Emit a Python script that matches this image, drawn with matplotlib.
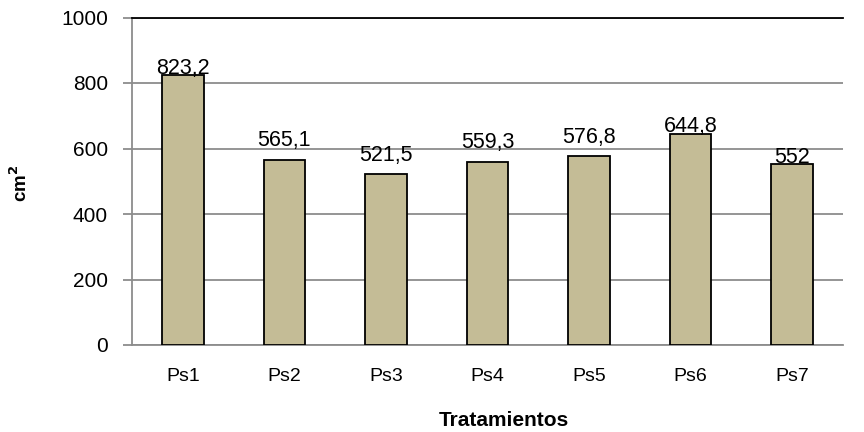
import matplotlib
matplotlib.use("Agg")
import matplotlib.pyplot as plt

categories = ["Ps1", "Ps2", "Ps3", "Ps4", "Ps5", "Ps6", "Ps7"]
values = [823.2, 565.1, 521.5, 559.3, 576.8, 644.8, 552]
labels = ["823,2", "565,1", "521,5", "559,3", "576,8", "644,8", "552"]
yticks = [0, 200, 400, 600, 800, 1000]

# vertical lift of each value label above its bar (points)
label_lift = [1, 10, 9.5, 10, 9.5, 1, 1]

plt.rcParams["font.family"] = ["Liberation Sans", "DejaVu Sans"]

W, H = 864, 432
fig = plt.figure(figsize=(W / 100, H / 100), dpi=100)
ax = fig.add_axes([132 / W, 1 - 345 / H, (843 - 132) / W, (345 - 17.5) / H])

x = list(range(len(categories)))
ax.bar(x, values, width=0.41, color="#C4BC96", edgecolor="black", linewidth=1.3, zorder=3)
for xi, v, lab, lift in zip(x, values, labels, label_lift):
    ax.annotate(lab, (xi, v), xytext=(0, lift), textcoords="offset points",
                ha="center", va="baseline", fontsize=15.5, color="black", zorder=4)

ax.set_xlim(-0.5, len(categories) - 0.5)
ax.set_ylim(0, 1000)
ax.set_yticks(yticks)
ax.set_yticklabels([str(t) for t in yticks], fontsize=15)
ax.set_xticks(x)
ax.set_xticklabels(categories, fontsize=14)
ax.yaxis.grid(True, color="#8c8c8c", linewidth=1.3, zorder=0)
ax.set_axisbelow(True)

ax.spines["right"].set_visible(False)
ax.spines["top"].set_color("black")
ax.spines["top"].set_linewidth(1.3)
for side in ("left", "bottom"):
    ax.spines[side].set_color("#8c8c8c")
    ax.spines[side].set_linewidth(1.3)
ax.tick_params(axis="y", length=6.5, width=1.3, color="#8c8c8c", pad=10.8)
ax.tick_params(axis="x", length=0, pad=16.5)

fig.text(20 / W, 1 - 183 / H, "cm$^\\mathbf{2}$", rotation=90, ha="center", va="center",
         fontsize=13.5, fontweight="bold")
fig.text(504 / W, 1 - 421 / H, "Tratamientos", ha="center", va="center",
         fontsize=15, fontweight="bold")

fig.savefig("out.png", dpi=100)
